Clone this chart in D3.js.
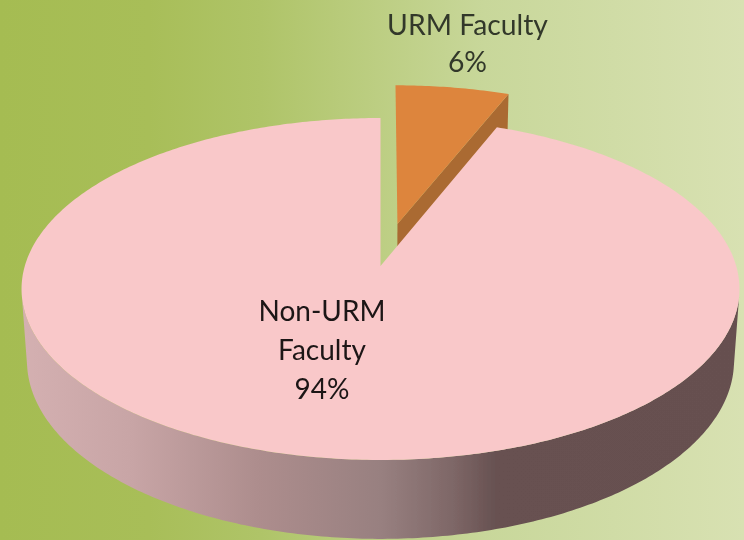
<!DOCTYPE html>
<html><head><meta charset="utf-8">
<script src="https://cdn.jsdelivr.net/npm/d3@7"></script>
<style>html,body{margin:0;padding:0;background:#fff}svg{display:block}</style>
</head><body><svg id="c" width="744" height="540"></svg>
<script>
const categories = ["URM Faculty", "Non-URM Faculty"];
const values = [6, 94];
const labelLines = [["URM Faculty", "6%"], ["Non-URM", "Faculty", "94%"]];
const bgStops = [[0, "#a5bc52"], [0.2, "#a8be58"], [0.35, "#afc468"], [0.65, "#c8d79a"], [1, "#d8e1b2"]];
const wallStops = [[0, "#d4b0b1"], [0.15, "#c8a5a6"], [0.33, "#ad8d8d"], [0.5, "#988080"], [0.6, "#7e6767"], [0.66, "#675151"], [1, "#665050"]];

const W = 744, H = 540;
const svg = d3.select("#c");
const defs = svg.append("defs");
function grad(id, x1, x2, stops) {
  const g = defs.append("linearGradient").attr("id", id).attr("gradientUnits", "userSpaceOnUse")
    .attr("x1", x1).attr("x2", x2).attr("y1", 0).attr("y2", 0);
  stops.forEach(s => g.append("stop").attr("offset", s[0]).attr("stop-color", s[1]));
}
grad("bg", 0, W, bgStops);
grad("wall", 22, 740, wallStops);
defs.append("filter").attr("id", "soft").attr("x", "-5%").attr("y", "-5%").attr("width", "110%").attr("height", "110%")
  .append("feGaussianBlur").attr("stdDeviation", 0.45);
svg.append("rect").attr("width", W).attr("height", H).attr("fill", "url(#bg)");
const root = svg.append("g").attr("filter", "url(#soft)");

// perspective projection of the tilted disc; z=0 top face, z=1 bottom face
const cx = 380.5, R = 355.7, A = -132.1, B = 266, C = 0.1345, E = 0.0152, G = 76.5;
function project(X, Y, z) {
  const w = 1 + C * Y + E * z;
  return [cx + R * X / w, (A * Y + B + G * z) / w];
}
const pie = d3.pie().sort(null).value(d => d)(values);
const explode = [0.263, 0];
function rimPoints(arc, z, off) {
  const n = Math.max(8, Math.ceil((arc.endAngle - arc.startAngle) * 80));
  return d3.range(n + 1).map(i => {
    const t = arc.startAngle + (arc.endAngle - arc.startAngle) * i / n;
    return project(off[0] + Math.sin(t), off[1] + Math.cos(t), z);
  });
}
function offset(arc, d) {
  const m = (arc.startAngle + arc.endAngle) / 2;
  return [d * Math.sin(m), d * Math.cos(m)];
}
const line = d3.line();

// exploded slice
const a0 = pie[0], o0 = offset(a0, explode[0]);
const rimTop0 = rimPoints(a0, 0, o0);
const apexTop0 = project(o0[0], o0[1], 0), apexBot0 = project(o0[0], o0[1], 1);
const cornerBot0 = project(o0[0] + Math.sin(a0.endAngle), o0[1] + Math.cos(a0.endAngle), 1);
root.append("path").attr("fill", "#aa6a30")
  .attr("d", line([apexTop0, rimTop0[rimTop0.length - 1], cornerBot0, apexBot0]) + "Z");
root.append("path").attr("fill", "#dd853d")
  .attr("d", line([apexTop0, ...rimTop0]) + "Z");

// main slice: outer wall from front-facing rim quads, then the top
const a1 = pie[1];
const rt = rimPoints(a1, 0, [0, 0]), rb = rimPoints(a1, 1, [0, 0]);
let wallD = "";
for (let i = 0; i < rt.length - 1; i++) {
  const q = [rt[i], rt[i + 1], rb[i + 1], rb[i]];
  if (d3.polygonArea(q) > 0) wallD += line(q) + "Z";
}
root.append("path").attr("fill", "url(#wall)").attr("d", wallD);
root.append("path").attr("fill", "#f9c8c9")
  .attr("d", line([project(0, 0, 0), ...rt]) + "Z");

// labels
const label = root.append("g").attr("font-family", "Lato, Carlito, 'Open Sans', sans-serif")
  .attr("text-anchor", "middle");
const labelPos = [[467.5, [35, 72]], [322, [321, 360, 399]]];
const labelColor = ["#33392a", "#1c1616"];
const labelSize = [28.3, 28];
labelLines.forEach((ls, i) => ls.forEach((s, j) => {
  label.append("text").attr("x", labelPos[i][0]).attr("y", labelPos[i][1][j])
    .attr("font-size", labelSize[i]).attr("fill", labelColor[i]).text(s);
}));
</script></body></html>
